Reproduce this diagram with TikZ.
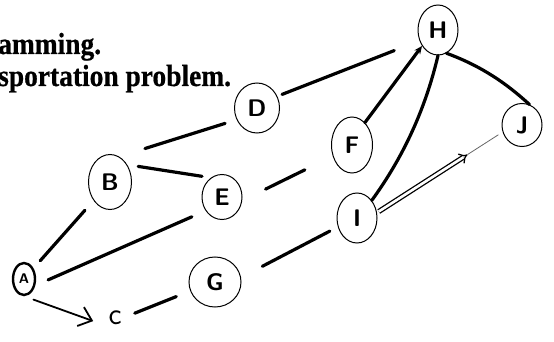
\documentclass[tikz,border=0pt]{standalone}
\usepackage{fontspec}
\setmainfont{Liberation Serif}
\newfontfamily\headfont[FakeStretch=0.9, FakeBold=0.6]{Liberation Serif}
\usetikzlibrary{shapes.geometric, arrows.meta, calc}

\begin{document}
\begin{tikzpicture}[
  x=1pt, y=-1pt,
  vtx/.style={
    ellipse, draw, line width=1pt, inner sep=0pt,
    font=\sffamily\bfseries\fontsize{24}{24}\selectfont},
  link/.style={line width=3.2pt, line cap=round},
  faint/.style={line width=0.8pt, black!60},
  head/.style={
    font=\headfont\bfseries\fontsize{30.5}{32}\selectfont,
    anchor=base west, inner sep=0pt}
]
  \useasboundingbox (0,0) rectangle (554,342);
  % Text
  \node[head] (T1) at (-2,54) {amming.};
  \node[head] (T2) at (-2,86) {sportation problem.};
  % Nodes
  \node[vtx, line width=2.4pt, minimum width=22pt, minimum height=32pt,
    font=\sffamily\bfseries\fontsize{14}{14}\selectfont] (A) at (24,279) {A};
  \node[vtx, minimum width=43pt, minimum height=55pt] (B) at (110,182) {B};
  \node[font=\sffamily\fontsize{31}{31}\selectfont, inner sep=1pt]
    (C) at (115,318) {c};
  \node[vtx, minimum width=45pt, minimum height=50pt] (D) at (257,108) {D};
  \node[vtx, minimum width=40pt, minimum height=45pt] (E) at (222,197) {E};
  \node[vtx, minimum width=41pt, minimum height=56pt] (F) at (352,145) {F};
  \node[vtx, minimum width=52pt, minimum height=50pt] (G) at (215,282) {G};
  \node[vtx, minimum width=40pt, minimum height=50pt] (H) at (438,30) {H};
  \node[vtx, minimum width=40pt, minimum height=50pt] (I) at (357,218) {I};
  \node[vtx, minimum width=40pt, minimum height=43pt] (J) at (522,125) {J};
  \coordinate (IJtip) at ($(I.15)!0.72!(J.200)$);
  % Links
  \draw[link, shorten <=10pt, shorten >=13pt] (A) -- (B);
  \draw[link, shorten <=14pt, shorten >=15pt] (A.-30) -- (E.220);
  \draw[link, shorten <=11pt, shorten >=9pt] (B.45) -- (E.120);
  \draw[link, shorten <=27pt, shorten >=12pt] (B.70) -- (D.210);
  \draw[link, shorten <=5pt, shorten >=27pt] (D.30) -- (H.210);
  \draw[link, -{Stealth[length=8pt, width=7pt]}] (F.60) -- (H.225);
  \draw[link] (I.50) .. controls +(32,-44) and +(-12.5,53) .. (H.south);
  \draw[link] (H.-70) .. controls +(32.5,12) and +(-25.5,-23.4) .. (J.70);
  \draw[link, shorten <=26pt, shorten >=31pt] (E.-10) -- (F.210);
  \draw[link, shorten <=24pt, shorten >=9pt] (G.10) -- (I.205);
  \draw[link, shorten <=13pt, shorten >=15pt] (C.east) -- (G.200);
  \draw[line width=1.8pt, line cap=round, shorten <=10pt, shorten >=15pt,
    -{Straight Barb[length=12pt, width=20pt]}] (A.south) -- (C.south west);
  % Double arrow
  \draw[line width=1.3pt, double, double distance=2.6pt, shorten <=2pt,
    -{Implies[length=9pt]}] (I.15) -- (IJtip);
  \draw[faint, shorten >=5pt] (IJtip) -- (J.200);
\end{tikzpicture}
\end{document}
